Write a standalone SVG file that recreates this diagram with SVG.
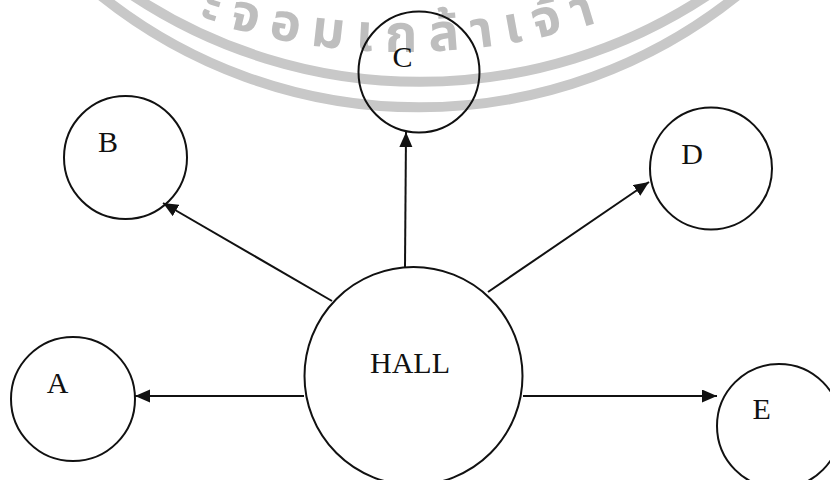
<svg xmlns="http://www.w3.org/2000/svg" width="830" height="480" viewBox="0 0 830 480">
<style>
.wm{fill:none;stroke:#c8c8c8;stroke-width:10}
.wmt{fill:#bebebe;font-family:"Noto Sans Thai","Noto Sans","DejaVu Sans",sans-serif;font-size:52px;font-weight:bold;letter-spacing:12px}
.node{fill:none;stroke:#111;stroke-width:2}
.lbl{fill:#111;font-family:"Liberation Serif","Times New Roman",serif;font-size:30px;text-anchor:middle}
.edge{stroke:#111;stroke-width:2;fill:none}
</style>
<defs>
<marker id="arr" markerUnits="userSpaceOnUse" markerWidth="16" markerHeight="14" refX="15" refY="6.5" orient="auto">
<path d="M0,0 L15,6.5 L0,13 Z" fill="#111"/>
</marker>
<path id="tp" d="M 150,0 A 650 650 0 0 0 700,-19"/>
</defs>
<rect width="830" height="480" fill="#fff"/>
<g id="watermark">
<path class="wm" d="M 100,-5 A 509 509 0 0 0 738,-5"/>
<path class="wm" d="M 132,-5 A 521 521 0 0 0 708,-5"/>
<text class="wmt"><textPath href="#tp" startOffset="52">ะจอมเกล้าเจ้า</textPath></text>
</g>
<g id="connectors">
<line class="edge" x1="304" y1="396" x2="135" y2="396" marker-end="url(#arr)"/>
<line class="edge" x1="332" y1="301" x2="163" y2="203" marker-end="url(#arr)"/>
<line class="edge" x1="405" y1="267" x2="406" y2="132" marker-end="url(#arr)"/>
<line class="edge" x1="488" y1="292" x2="649" y2="182" marker-end="url(#arr)"/>
<line class="edge" x1="523" y1="396" x2="717" y2="396" marker-end="url(#arr)"/>
</g>
<g id="node-hall"><circle class="node" cx="413.5" cy="376" r="109"/><text class="lbl" x="410" y="373">HALL</text></g>
<g id="node-a"><circle class="node" cx="73" cy="399" r="62"/><text class="lbl" x="57.5" y="393">A</text></g>
<g id="node-b"><circle class="node" cx="125.5" cy="157.5" r="61.5"/><text class="lbl" x="108" y="152">B</text></g>
<g id="node-c"><circle class="node" cx="419" cy="72" r="60.5"/><text class="lbl" x="402.5" y="67">C</text></g>
<g id="node-d"><circle class="node" cx="711" cy="168.5" r="61"/><text class="lbl" x="692" y="164">D</text></g>
<g id="node-e"><circle class="node" cx="779" cy="426" r="62"/><text class="lbl" x="761.7" y="419">E</text></g>
</svg>
